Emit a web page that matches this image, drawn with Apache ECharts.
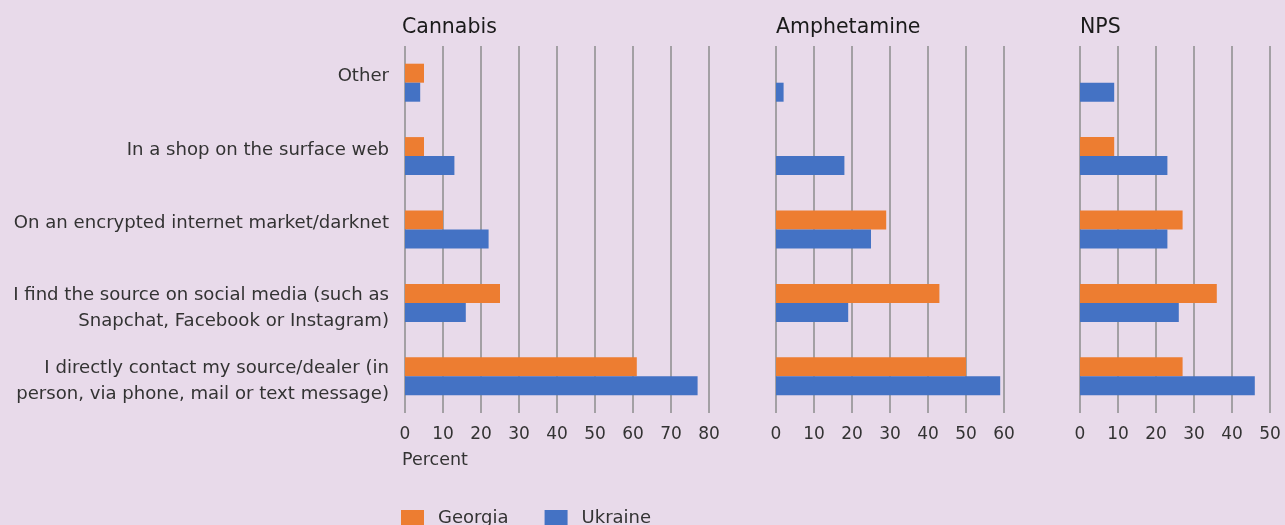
<!DOCTYPE html>
<html><head><meta charset="utf-8">
<script src="https://cdn.jsdelivr.net/npm/echarts@6/dist/echarts.min.js"></script>
<style>html,body{margin:0;padding:0;background:#e8daea;}#c{width:1285px;height:525px;}</style>
</head><body><div id="c"></div>
<script>
const categories = ["Other", "In a shop on the surface web", "On an encrypted internet market/darknet", "I find the source on social media (such as\nSnapchat, Facebook or Instagram)", "I directly contact my source/dealer (in\nperson, via phone, mail or text message)"];
const panels = ["Cannabis", "Amphetamine", "NPS"];
const cannabisGeorgia = [5, 5, 10, 25, 61];
const cannabisUkraine = [4, 13, 22, 16, 77];
const amphGeorgia = [0, 0, 29, 43, 50];
const amphUkraine = [2, 18, 25, 19, 59];
const npsGeorgia = [0, 9, 27, 36, 27];
const npsUkraine = [9, 23, 23, 26, 46];
const axisMax = [80, 60, 50];

const font = "DejaVu Sans";
const grids = [
  {left: 405, width: 304, top: 46, height: 367},
  {left: 776, width: 228, top: 46, height: 367},
  {left: 1080, width: 190, top: 46, height: 367}
];
const titleLeft = [402, 776, 1080];
const georgia = [cannabisGeorgia, amphGeorgia, npsGeorgia];
const ukraine = [cannabisUkraine, amphUkraine, npsUkraine];
const labelBase = {fontFamily: font, fontSize: 18.1, color: '#333', lineHeight: 26};
const xAxis = [], yAxis = [], series = [], titles = [];
for (let i = 0; i < 3; i++) {
  xAxis.push({gridIndex: i, type: 'value', min: 0, max: axisMax[i], interval: 10,
    axisLine: {show: false}, axisTick: {show: false},
    splitLine: {show: true, lineStyle: {color: '#8c8c8c', width: 1.5}},
    axisLabel: {color: '#333', fontFamily: font, fontSize: 17, margin: 13}});
  yAxis.push({gridIndex: i, type: 'category', data: categories, inverse: true,
    axisLine: {show: false}, axisTick: {show: false},
    axisLabel: {show: i === 0, color: '#333', fontFamily: font, fontSize: 18.1, margin: 16, lineHeight: 26, align: 'right',
      formatter: function (v) {
        const parts = v.split('\n');
        if (parts.length === 1) return '{up|' + v + '}';
        return '{dn|' + parts[0] + '}\n{dn|' + parts[1] + '}';
      },
      rich: {
        up: Object.assign({}, labelBase, {padding: [0, 0, 12, 0]}),
        dn: Object.assign({}, labelBase, {padding: [10, 0, 0, 0]})
      }}});
  series.push({name: 'Georgia', type: 'bar', xAxisIndex: i, yAxisIndex: i, data: georgia[i],
    barWidth: 19, barGap: '0%', itemStyle: {color: '#ed7d31'}});
  series.push({name: 'Ukraine', type: 'bar', xAxisIndex: i, yAxisIndex: i, data: ukraine[i],
    barWidth: 19, barGap: '0%', itemStyle: {color: '#4472c4'}});
  titles.push({text: panels[i], left: titleLeft[i], top: 17, padding: 0,
    textStyle: {color: '#1a1a1a', fontFamily: font, fontSize: 20.5, fontWeight: 'normal'}});
}
titles.push({text: 'Percent', left: 402, top: 451, padding: 0,
  textStyle: {color: '#333', fontFamily: font, fontSize: 17.5, fontWeight: 'normal'}});

const chart = echarts.init(document.getElementById('c'));
chart.setOption({
  backgroundColor: '#e8daea',
  animation: false,
  title: titles,
  grid: grids,
  xAxis: xAxis,
  yAxis: yAxis,
  legend: {data: ['Georgia', 'Ukraine'], left: 401, top: 509, padding: 0, itemWidth: 23, itemHeight: 16, itemGap: 36,
    icon: 'rect', textStyle: {color: '#333', fontFamily: font, fontSize: 18, padding: [0, 0, 0, 9]}},
  series: series
});
</script></body></html>
